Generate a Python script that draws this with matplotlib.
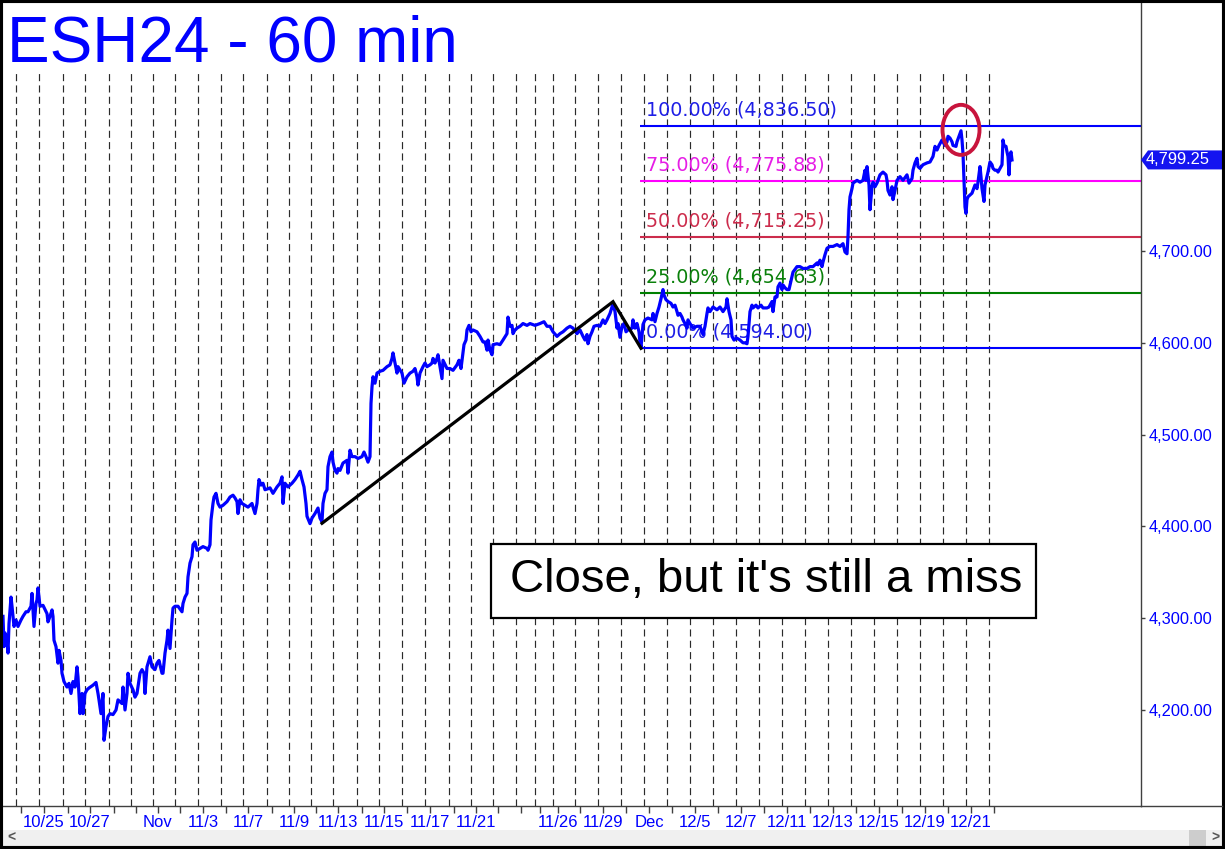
import matplotlib
matplotlib.use("Agg")
import matplotlib.pyplot as plt
from matplotlib.patches import Ellipse, Rectangle, Polygon
from matplotlib.lines import Line2D

plt.rcParams['font.family'] = ['Liberation Sans', 'DejaVu Sans']

# ---------------- data ----------------
title = "ESH24 - 60 min"

# hourly bar index (time axis) and price
bar_idx = [0, 1, 2, 4, 5, 6, 8, 9, 11, 13, 15, 18, 20, 23, 25, 28, 29, 31, 33, 34, 35, 37, 40, 44, 45, 47, 49, 50, 51, 53,
           55, 56, 58, 59, 61, 64, 66, 68, 70, 72, 74, 75, 77, 79, 80, 82, 84, 86, 90, 93, 95, 96, 98, 100, 101, 103, 105,
           107, 110, 113, 115, 119, 120, 122, 124, 125, 127, 130, 132, 134, 137, 139, 141, 142, 144, 147, 149, 152, 154,
           156, 159, 160, 162, 164, 165, 167, 169, 170, 172, 175, 179, 180, 182, 184, 185, 187, 189, 190, 192, 194, 197,
           200, 204, 205, 207, 208, 210, 211, 213, 215, 217, 220, 224, 227, 230, 232, 234, 235, 237, 239, 242, 245, 249,
           250, 252, 254, 255, 256, 258, 260, 262, 265,
           267, 270, 274, 277, 279, 280, 282, 285, 289, 292, 295, 297, 299, 301, 303, 304, 307, 309, 312, 315, 317, 319,
           320, 322, 324, 325, 327, 329, 330, 332, 334, 335, 337, 340, 344, 345, 347, 349, 352, 355, 359, 361, 363, 365,
           367, 368, 369, 370, 372, 374, 377, 380, 384, 387, 389, 390, 392, 394, 395, 399, 401, 404, 407, 410, 412, 414,
           415, 417, 420, 422, 424, 427, 429, 430, 432, 434, 435, 437, 439, 440, 444, 447, 450, 454, 456, 458, 460, 461,
           463, 464, 466, 468, 470, 474, 477, 480, 482, 484, 485, 487, 489, 490, 494, 497, 500, 504, 505, 507, 509, 510,
           512, 514, 517,
           520, 524, 527, 532, 537, 541, 544, 547, 550, 554, 557, 560, 564, 567, 570, 574, 577, 580, 582, 584, 585, 587,
           589, 591, 594, 597, 600, 602, 604, 607, 609, 610, 612, 614, 615, 617, 619, 621, 623, 625, 629, 630, 632, 634,
           636, 637, 638, 640, 642, 645, 649, 650, 652, 654, 656, 658, 660, 661, 663, 665, 668, 670, 672, 674, 675, 677,
           679, 680, 683, 684, 685, 687, 690, 694, 697, 700, 702, 704, 705, 707, 710, 714, 717, 720, 723, 724, 726, 728,
           729, 731, 734, 737, 740, 742, 744, 745, 747, 749, 750, 753, 755, 758, 760, 764, 766, 769, 770, 772, 774, 775,
           777, 779, 780, 782, 784, 786,
           790, 794, 797, 800, 804, 807, 810, 814, 815, 817, 819, 820, 822, 824, 827, 830, 834, 837, 840, 842, 844, 845,
           846, 847, 849, 850, 854, 857, 860, 862, 863, 864, 866, 867, 869, 870, 872, 874, 877, 880, 883, 884, 885, 887,
           889, 890, 892, 894, 897, 900, 904, 906, 909, 910, 912, 914, 915, 917, 920, 924, 927, 930, 932, 934, 936, 939,
           940, 942, 944, 945, 947, 949, 950, 953, 954, 956, 958, 959, 960, 961, 962, 963, 964, 965, 967, 969, 970, 972,
           974, 975, 977, 978, 979, 981, 982, 984, 985, 987, 989, 990, 992, 994, 995, 997, 999, 1000, 1001, 1003, 1004,
           1005, 1006, 1007, 1008, 1009]
close = [4302, 4269, 4284, 4276, 4262, 4294, 4323, 4313, 4291, 4298, 4291, 4298, 4302, 4307, 4307, 4313, 4327, 4291,
         4316, 4320, 4333, 4313, 4314, 4305, 4296, 4302, 4309, 4302, 4276, 4269, 4251, 4265, 4254, 4240, 4231, 4225,
         4229, 4218, 4231, 4225, 4247, 4236, 4196, 4218, 4196, 4218, 4222, 4224, 4227, 4230, 4218, 4211, 4196, 4218,
         4167, 4182, 4193, 4196, 4195, 4200, 4211, 4207, 4225, 4200, 4218, 4240, 4229, 4222, 4214, 4218, 4240, 4244,
         4240, 4218, 4247, 4258, 4247, 4244, 4251, 4254, 4240, 4240, 4262, 4276, 4287, 4267, 4298, 4311, 4313, 4313,
         4307, 4316, 4323, 4327, 4345, 4360, 4367, 4380, 4383, 4374, 4376, 4378, 4376, 4374, 4380, 4407, 4425, 4432,
         4436, 4425, 4421, 4423, 4427, 4432, 4434, 4431, 4427, 4414, 4429, 4425, 4423, 4421, 4425, 4421, 4414, 4425,
         4440, 4451, 4445, 4447, 4440, 4441,
         4442, 4436, 4443, 4447, 4454, 4425, 4447, 4443, 4447, 4451, 4456, 4460, 4451, 4443, 4425, 4411, 4403, 4409,
         4414, 4420, 4409, 4405, 4425, 4436, 4440, 4465, 4476, 4481, 4470, 4461, 4458, 4463, 4461, 4469, 4472, 4458,
         4483, 4476, 4476, 4474, 4476, 4481, 4476, 4470, 4476, 4534, 4552, 4563, 4556, 4567, 4569, 4570, 4574, 4576,
         4583, 4589, 4578, 4567, 4574, 4567, 4556, 4563, 4567, 4569, 4572, 4563, 4554, 4567, 4574, 4578, 4574, 4576,
         4578, 4583, 4578, 4583, 4587, 4574, 4561, 4581, 4572, 4572, 4570, 4576, 4581, 4572, 4589, 4598, 4603, 4614,
         4619, 4612, 4614, 4612, 4607, 4601, 4601, 4592, 4603, 4592, 4587, 4598, 4599, 4598, 4603, 4610, 4628, 4618,
         4619, 4610, 4614, 4616, 4618,
         4621, 4619, 4621, 4619, 4621, 4623, 4618, 4618, 4612, 4607, 4610, 4612, 4616, 4618, 4616, 4610, 4614, 4607,
         4603, 4609, 4599, 4607, 4612, 4618, 4619, 4618, 4625, 4621, 4625, 4632, 4639, 4643, 4634, 4616, 4621, 4606,
         4618, 4621, 4612, 4614, 4616, 4625, 4616, 4621, 4612, 4600, 4595, 4620, 4625, 4627, 4625, 4632, 4623, 4632,
         4639, 4648, 4658, 4652, 4647, 4645, 4643, 4639, 4641, 4634, 4630, 4632, 4628, 4625, 4619, 4616, 4625, 4621,
         4616, 4618, 4618, 4609, 4618, 4632, 4638, 4634, 4639, 4636, 4639, 4634, 4639, 4648, 4634, 4625, 4607, 4603,
         4605, 4603, 4600, 4600, 4599, 4607, 4634, 4641, 4638, 4641, 4638, 4641, 4638, 4638, 4639, 4645, 4634, 4650,
         4650, 4661, 4665, 4658, 4663, 4660, 4658, 4658,
         4677, 4683, 4683, 4681, 4681, 4683, 4683, 4687, 4685, 4690, 4683, 4688, 4696, 4703, 4705, 4705, 4707, 4705,
         4708, 4699, 4697, 4716, 4745, 4759, 4768, 4774, 4777, 4775, 4777, 4788, 4777, 4792, 4772, 4745, 4770, 4775,
         4770, 4774, 4783, 4786, 4783, 4777, 4766, 4761, 4770, 4756, 4766, 4777, 4781, 4777, 4783, 4774, 4779, 4788,
         4796, 4801, 4792, 4790, 4794, 4796, 4797, 4803, 4814, 4810, 4815, 4821, 4819, 4815, 4819, 4825, 4823, 4819,
         4815, 4814, 4819, 4825, 4831, 4821, 4806, 4777, 4748, 4741, 4756, 4759, 4761, 4763, 4766, 4772, 4768, 4775,
         4792, 4781, 4768, 4754, 4772, 4781, 4786, 4797, 4794, 4790, 4788, 4788, 4786, 4790, 4794, 4821, 4815, 4814,
         4808, 4803, 4783, 4805, 4808, 4799.25]

# ABC pattern (low - high - low)
abc_bars = [319, 610, 638]
abc_prices = [4403.4, 4644.8, 4594.0]

# Fibonacci projection levels
fib_pcts = ["100.00%", "75.00%", "50.00%", "25.00%", "0.00%"]
fib_levels = [4836.50, 4775.88, 4715.25, 4654.63, 4594.00]
fib_start_bar = 637

# session (day) boundaries on the time axis
session_starts = [13, 36, 60, 82, 106, 128, 150, 172, 195, 218, 240, 264, 286, 308, 330, 354, 376, 399, 422, 446,
                  468, 490, 513, 532, 550, 572, 595, 618, 641, 664, 687, 710, 733, 756, 779, 802, 825, 848, 871, 894,
                  917, 940, 963, 986]
date_label_bars = [41, 87, 155, 200, 245, 291, 335, 381, 427, 473, 555, 600, 646, 692, 738, 784, 830, 876, 922, 968]
date_labels = ["10/25", "10/27", "Nov", "11/3", "11/7", "11/9", "11/13", "11/15", "11/17", "11/21", "11/26",
               "11/29", "Dec", "12/5", "12/7", "12/11", "12/13", "12/15", "12/19", "12/21"]

price_ticks = [4200, 4300, 4400, 4500, 4600, 4700]
last_price = 4799.25
note_text = "Close, but it's still a miss"
miss_bar, miss_price = 958, 4832

# ---------------- layout ----------------
W, H = 1225, 849
fig = plt.figure(figsize=(W / 100, H / 100), dpi=100)
fig.patch.set_facecolor('white')

def fx(px):
    return px / W

def fy(py):
    return 1 - py / H

AX_L, AX_R, AX_T, AX_B = 3, 1141, 3, 806
ax = fig.add_axes([fx(AX_L), fy(AX_B), (AX_R - AX_L) / W, (AX_B - AX_T) / H])
ax.set_facecolor('white')
ax.set_xlim(0, 1138)
ymin, ymax = 4095.4, 4970.2
ax.set_ylim(ymin, ymax)

axis_col = '#404040'
for s in ['left', 'top']:
    ax.spines[s].set_visible(False)
for s in ['bottom', 'right']:
    ax.spines[s].set_color(axis_col)
    ax.spines[s].set_linewidth(1.0)

# vertical session lines
ax.vlines(session_starts, ymin, 4894, colors='#2a2a2a', linestyles=(0, (6.0, 3.6)), linewidth=0.85, zorder=1)

# fib levels
fib_colors = ['#0000FF', '#FF00FF', '#CC2C4C', '#008000', '#0000FF']
fib_text_colors = ['#1E1EE6', '#E61EE6', '#CC2C4C', '#0A800A', '#1E1EE6']
for pct, lvl, c, tc in zip(fib_pcts, fib_levels, fib_colors, fib_text_colors):
    ax.hlines(lvl, fib_start_bar, 1138, colors=c, linewidth=1.5, zorder=2)
    ax.annotate(f"{pct} ({lvl:,.2f})", xy=(fib_start_bar + 6, lvl), xytext=(0, 11.5),
                textcoords='offset points', ha='left', va='center', color=tc,
                fontsize=13.8, family=['DejaVu Sans'], zorder=2.5)

# price series
ax.plot(bar_idx, close, color='#0000FF', linewidth=2.3, zorder=3)

# ABC zigzag
ax.plot(abc_bars, abc_prices, color='black', linewidth=2.3, zorder=4, solid_joinstyle='miter')

# circle marking the miss
ax.add_patch(Ellipse((miss_bar, miss_price), 37, 54.5, fill=False, edgecolor='#C8143C', linewidth=2.8, zorder=5))

# note box
def px2ax(x, y):
    return (x - AX_L) / (AX_R - AX_L), (AX_B - y) / (AX_B - AX_T)

bx0, by0 = px2ax(491, 618)
bx1, by1 = px2ax(1036, 544)
ax.add_patch(Rectangle((bx0, by0), bx1 - bx0, by1 - by0, transform=ax.transAxes, facecolor='white',
                       edgecolor='black', linewidth=1.6, zorder=6))
tx, ty = px2ax(766, 580)
ax.text(tx, ty, note_text, transform=ax.transAxes, ha='center', va='center', fontsize=34, color='black', zorder=7)

# y axis on right
ax.yaxis.tick_right()
ax.set_yticks(price_ticks)
ax.set_yticklabels([f"{v:,.2f}" for v in price_ticks])
ax.tick_params(axis='y', direction='out', length=3, width=1, color=axis_col, labelcolor='#0000FF',
               labelsize=11.8, pad=2.2)

# x axis
tick_pos = [s + 5 for s in session_starts]
lab_map = dict(zip(date_label_bars, date_labels))
ax.set_xticks(tick_pos)
ax.set_xticklabels([lab_map.get(p, "") for p in tick_pos])
ax.tick_params(axis='x', direction='out', length=5, width=1, color=axis_col, labelcolor='#0000FF',
               labelsize=12, pad=1.5)

# extend bottom axis line under price scale
fig.add_artist(Line2D([fx(AX_R), fx(1222)], [fy(AX_B), fy(AX_B)], transform=fig.transFigure,
                      color=axis_col, linewidth=1.0))

# last-price box
fig.canvas.draw()
yc = ax.transData.transform((0, last_price))[1] / H
hh = 9.5 / H
poly = Polygon([(fx(AX_R), yc), (fx(AX_R + 7), yc + hh), (fx(1222), yc + hh), (fx(1222), yc - hh),
                (fx(AX_R + 7), yc - hh)], closed=True, transform=fig.transFigure, facecolor='#1414F0',
               edgecolor='none')
fig.add_artist(poly)
fig.text(fx(1146), yc, f"{last_price:,.2f}", color='white', fontsize=11.8, ha='left', va='center')

# title
fig.text(fx(7), fy(62), title, fontsize=46, color='#0000FF', ha='left', va='baseline')

# scrollbar
fig.add_artist(Rectangle((fx(3), fy(846)), fx(1219), 16 / H, transform=fig.transFigure,
                         facecolor='#F0F0F0', edgecolor='none'))
fig.add_artist(Rectangle((fx(1189), fy(846)), fx(17), 16 / H, transform=fig.transFigure,
                         facecolor='#CDCDCD', edgecolor='none'))
fig.text(fx(7), fy(838), "<", fontsize=10, color='#555555', ha='left', va='center', fontweight='bold')
fig.text(fx(1211), fy(838), ">", fontsize=10, color='#555555', ha='left', va='center', fontweight='bold')

# outer frame
fig.add_artist(Rectangle((0, 0), 1, 1, transform=fig.transFigure, fill=False, edgecolor='black', linewidth=4.4))

fig.savefig("out.png", dpi=100, facecolor='white')
